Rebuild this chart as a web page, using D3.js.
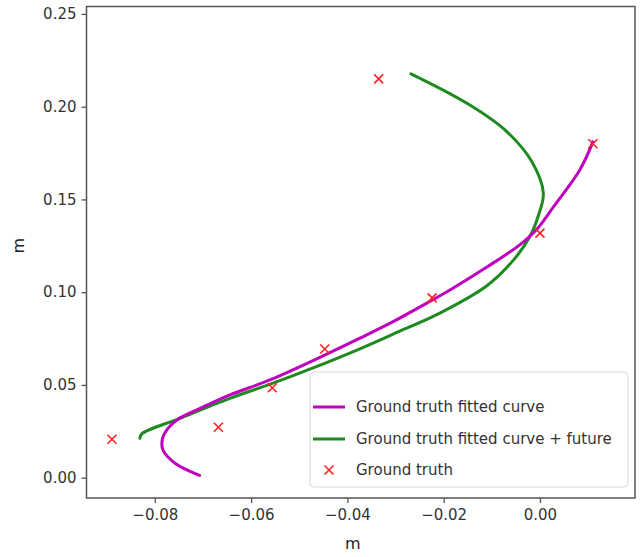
<!DOCTYPE html>
<html>
<head>
<meta charset="utf-8">
<script src="https://cdn.jsdelivr.net/npm/d3@7"></script>
<style>
  html, body { margin: 0; padding: 0; background: #fff; }
  svg { display: block; font-family: "DejaVu Sans", sans-serif; }
</style>
</head>
<body>
<svg id="chart" width="642" height="557"></svg>
<script>
// Ground-truth samples (x, y in metres)
const truthX = [-0.0889, -0.0668, -0.0556, -0.0447, -0.0224, 0.0000, 0.0110, -0.0335];
const truthY = [0.0207, 0.0272, 0.0485, 0.0694, 0.0969, 0.1318, 0.1800, 0.2150];

// Fitted curve through the ground truth
const fitX = [-0.0707, -0.0758, -0.0783, -0.0784, -0.0774, -0.0752, -0.0713, -0.0644, -0.0561, -0.0443,
              -0.0374, -0.0305, -0.0235, -0.0180, -0.0111, -0.0042, -0.0007, 0.0028, 0.0083, 0.0110];
const fitY = [0.0012, 0.0078, 0.0149, 0.0212, 0.0262, 0.0315, 0.0365, 0.0446, 0.0527, 0.0666,
              0.0752, 0.0841, 0.0941, 0.1023, 0.1134, 0.1255, 0.1338, 0.1460, 0.1660, 0.1810];

// Fitted curve extended into the future
const futX = [-0.0831, -0.0827, -0.0748, -0.0644, -0.0556, -0.0478, -0.0374, -0.0305, -0.0208,
              -0.0111, -0.0056, -0.0021, -0.0004, 0.0007, -0.0017, -0.0069, -0.0149, -0.0268];
const futY = [0.0212, 0.0236, 0.0320, 0.0428, 0.0508, 0.0585, 0.0695, 0.0774, 0.0887,
              0.1033, 0.1170, 0.1300, 0.1408, 0.1534, 0.1704, 0.1866, 0.2014, 0.2177];

const xTicks = [-0.08, -0.06, -0.04, -0.02, 0.00];
const yTicks = [0.00, 0.05, 0.10, 0.15, 0.20, 0.25];

const legendLabels = ["Ground truth fitted curve", "Ground truth fitted curve + future", "Ground truth"];

const colFit = "#bf00bf", colFut = "#1f8a1f", colTruth = "#ff2020";
const axisCol = "#555", textCol = "#333";

const svg = d3.select("#chart");
const m = { left: 86.5, top: 6.5, right: 7, bottom: 59 };
const W = 642 - m.left - m.right, H = 557 - m.top - m.bottom;

const x = d3.scaleLinear().domain([-0.09419, 0.01974]).range([0, W]);
const y = d3.scaleLinear().domain([-0.01095, 0.2540]).range([H, 0]);

const g = svg.append("g").attr("transform", `translate(${m.left},${m.top})`);

// axes
const fmt = d3.format(".2f");
const minus = s => s.replace("-", "\u2212");
const xAxis = g.append("g").attr("transform", `translate(0,${H})`)
  .call(d3.axisBottom(x).tickValues(xTicks).tickSize(5).tickPadding(6).tickFormat(d => minus(fmt(d))));
const yAxis = g.append("g")
  .call(d3.axisLeft(y).tickValues(yTicks).tickSize(5).tickPadding(5).tickFormat(d => fmt(d)));
[xAxis, yAxis].forEach(a => {
  a.select(".domain").remove();
  a.selectAll(".tick line").attr("stroke", axisCol).attr("stroke-width", 1.3);
  a.selectAll(".tick text").attr("fill", textCol).style("font-size", "15px")
    .style("font-family", "DejaVu Sans, sans-serif");
});

// frame
g.append("rect").attr("x", 0).attr("y", 0).attr("width", W).attr("height", H)
  .attr("fill", "none").attr("stroke", axisCol).attr("stroke-width", 1.5);

// axis labels
svg.append("text").attr("x", m.left + x(-0.0389)).attr("y", 549)
  .attr("text-anchor", "middle").attr("fill", "#222").style("font-size", "16px").text("m");
svg.append("text").attr("transform", `translate(24,${m.top + y(0.125)}) rotate(-90)`)
  .attr("text-anchor", "middle").attr("fill", "#222").style("font-size", "16px").text("m");

// curves
const line = d3.line().x(d => x(d[0])).y(d => y(d[1])).curve(d3.curveCatmullRom.alpha(0.5));
g.append("path").datum(d3.zip(futX, futY)).attr("d", line)
  .attr("fill", "none").attr("stroke", colFut).attr("stroke-width", 3).attr("stroke-linejoin", "round").attr("stroke-linecap", "round");
g.append("path").datum(d3.zip(fitX, fitY)).attr("d", line)
  .attr("fill", "none").attr("stroke", colFit).attr("stroke-width", 3).attr("stroke-linejoin", "round").attr("stroke-linecap", "round");

// ground-truth markers
const cross = "M-4.5,-4.5L4.5,4.5M-4.5,4.5L4.5,-4.5";
g.selectAll(".truth").data(d3.zip(truthX, truthY)).join("path")
  .attr("class", "truth")
  .attr("transform", d => `translate(${x(d[0])},${y(d[1])})`)
  .attr("d", cross).attr("stroke", colTruth).attr("stroke-width", 1.6).attr("fill", "none");

// legend
const lg = svg.append("g").attr("transform", "translate(310,372)");
lg.append("rect").attr("x", 0).attr("y", 0).attr("width", 318).attr("height", 115).attr("rx", 4)
  .attr("fill", "#fff").attr("fill-opacity", 0.85).attr("stroke", "#d8d8d8").attr("stroke-width", 1);
const rows = [35, 67, 98];
[colFit, colFut].forEach((c, i) => {
  lg.append("line").attr("x1", 3).attr("x2", 35).attr("y1", rows[i]).attr("y2", rows[i])
    .attr("stroke", c).attr("stroke-width", 3);
});
lg.append("path").attr("transform", `translate(19,${rows[2]})`).attr("d", cross)
  .attr("stroke", colTruth).attr("stroke-width", 1.6).attr("fill", "none");
legendLabels.forEach((t, i) => {
  lg.append("text").attr("x", 46).attr("y", rows[i]).attr("dy", "0.36em")
    .attr("fill", textCol).style("font-size", "15px").text(t);
});
</script>
</body>
</html>
